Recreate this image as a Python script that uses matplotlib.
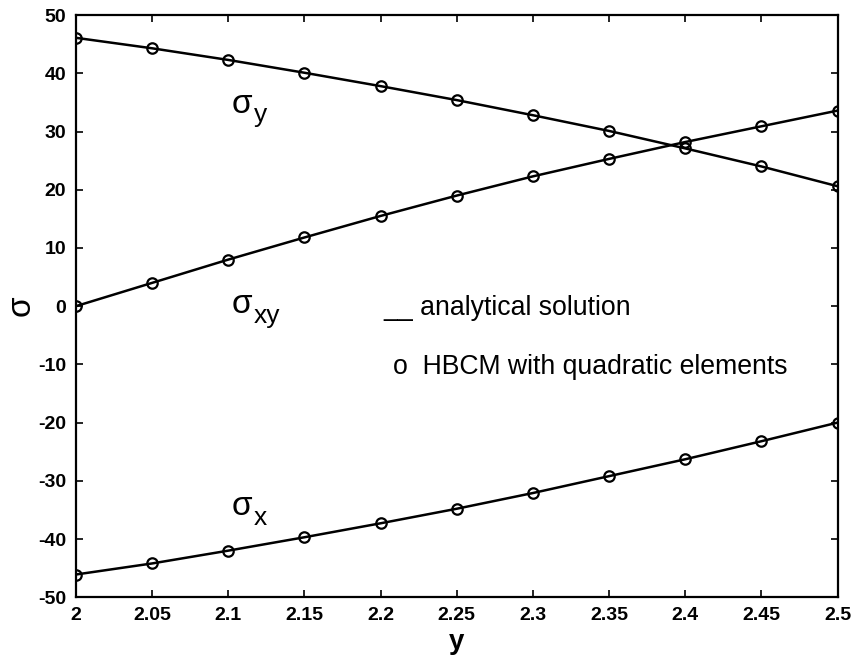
import numpy as np
import matplotlib
matplotlib.use('Agg')
from matplotlib import pyplot as plt

# y positions where stresses were sampled
y_pos = [2.0, 2.05, 2.1, 2.15, 2.2, 2.25, 2.3, 2.35, 2.4, 2.45, 2.5]
# stress components
sigma_y = [46.1, 44.3, 42.3, 40.1, 37.8, 35.4, 32.8, 30.1, 27.1, 24.0, 20.6]
sigma_xy = [0.0, 4.0, 8.0, 11.8, 15.5, 19.0, 22.3, 25.3, 28.2, 30.9, 33.6]
sigma_x = [-46.1, -44.2, -42.0, -39.7, -37.3, -34.8, -32.1, -29.2, -26.3, -23.2, -20.0]

x_ticks = [2, 2.05, 2.1, 2.15, 2.2, 2.25, 2.3, 2.35, 2.4, 2.45, 2.5]
x_tick_labels = ['2', '2.05', '2.1', '2.15', '2.2', '2.25', '2.3', '2.35', '2.4', '2.45', '2.5']
y_ticks = [-50, -40, -30, -20, -10, 0, 10, 20, 30, 40, 50]

plt.rcParams['font.family'] = ['Liberation Sans', 'DejaVu Sans']
plt.rcParams['axes.unicode_minus'] = False

fig = plt.figure(figsize=(8.53, 6.57), dpi=100)
ax = fig.add_axes([0.089, 0.091, 0.893, 0.886])

for s in [sigma_y, sigma_xy, sigma_x]:
    # analytical curve
    ax.plot(y_pos, s, color='black', lw=1.8)
    # HBCM points
    ax.plot(y_pos, s, linestyle='none', marker='o', markersize=7.5,
            markerfacecolor='none', markeredgecolor='black', markeredgewidth=1.6)

ax.set_xlim(2, 2.5)
ax.set_ylim(-50, 50)
ax.set_xticks(x_ticks)
ax.set_xticklabels(x_tick_labels)
ax.set_yticks(y_ticks)
ax.tick_params(direction='in', top=True, right=True, length=5, width=1.2,
               labelsize=14, pad=7)
for lab in ax.get_xticklabels() + ax.get_yticklabels():
    lab.set_fontweight('bold')
for sp in ax.spines.values():
    sp.set_linewidth(1.6)

ax.set_xlabel('y', fontsize=20, fontweight='bold', labelpad=4)
ax.set_ylabel('σ', fontsize=24, labelpad=1)

# curve labels: sigma plus a lowered subscript
def sig_label(x, y, sub):
    ax.text(x, y, 'σ', fontsize=24, va='center', ha='left')
    ax.annotate(sub, (x, y), xytext=(16, -8), textcoords='offset points',
                fontsize=19, va='center', ha='left')

sig_label(2.102, 34.7, 'y')
sig_label(2.102, 0.2, 'xy')
sig_label(2.102, -34.5, 'x')

# hand-made legend
ax.text(2.202, -0.3, '__ analytical solution', fontsize=19.2, va='center')
ax.text(2.208, -10.5, 'o  HBCM with quadratic elements', fontsize=19.2, va='center')

fig.savefig('out.png', dpi=100)
